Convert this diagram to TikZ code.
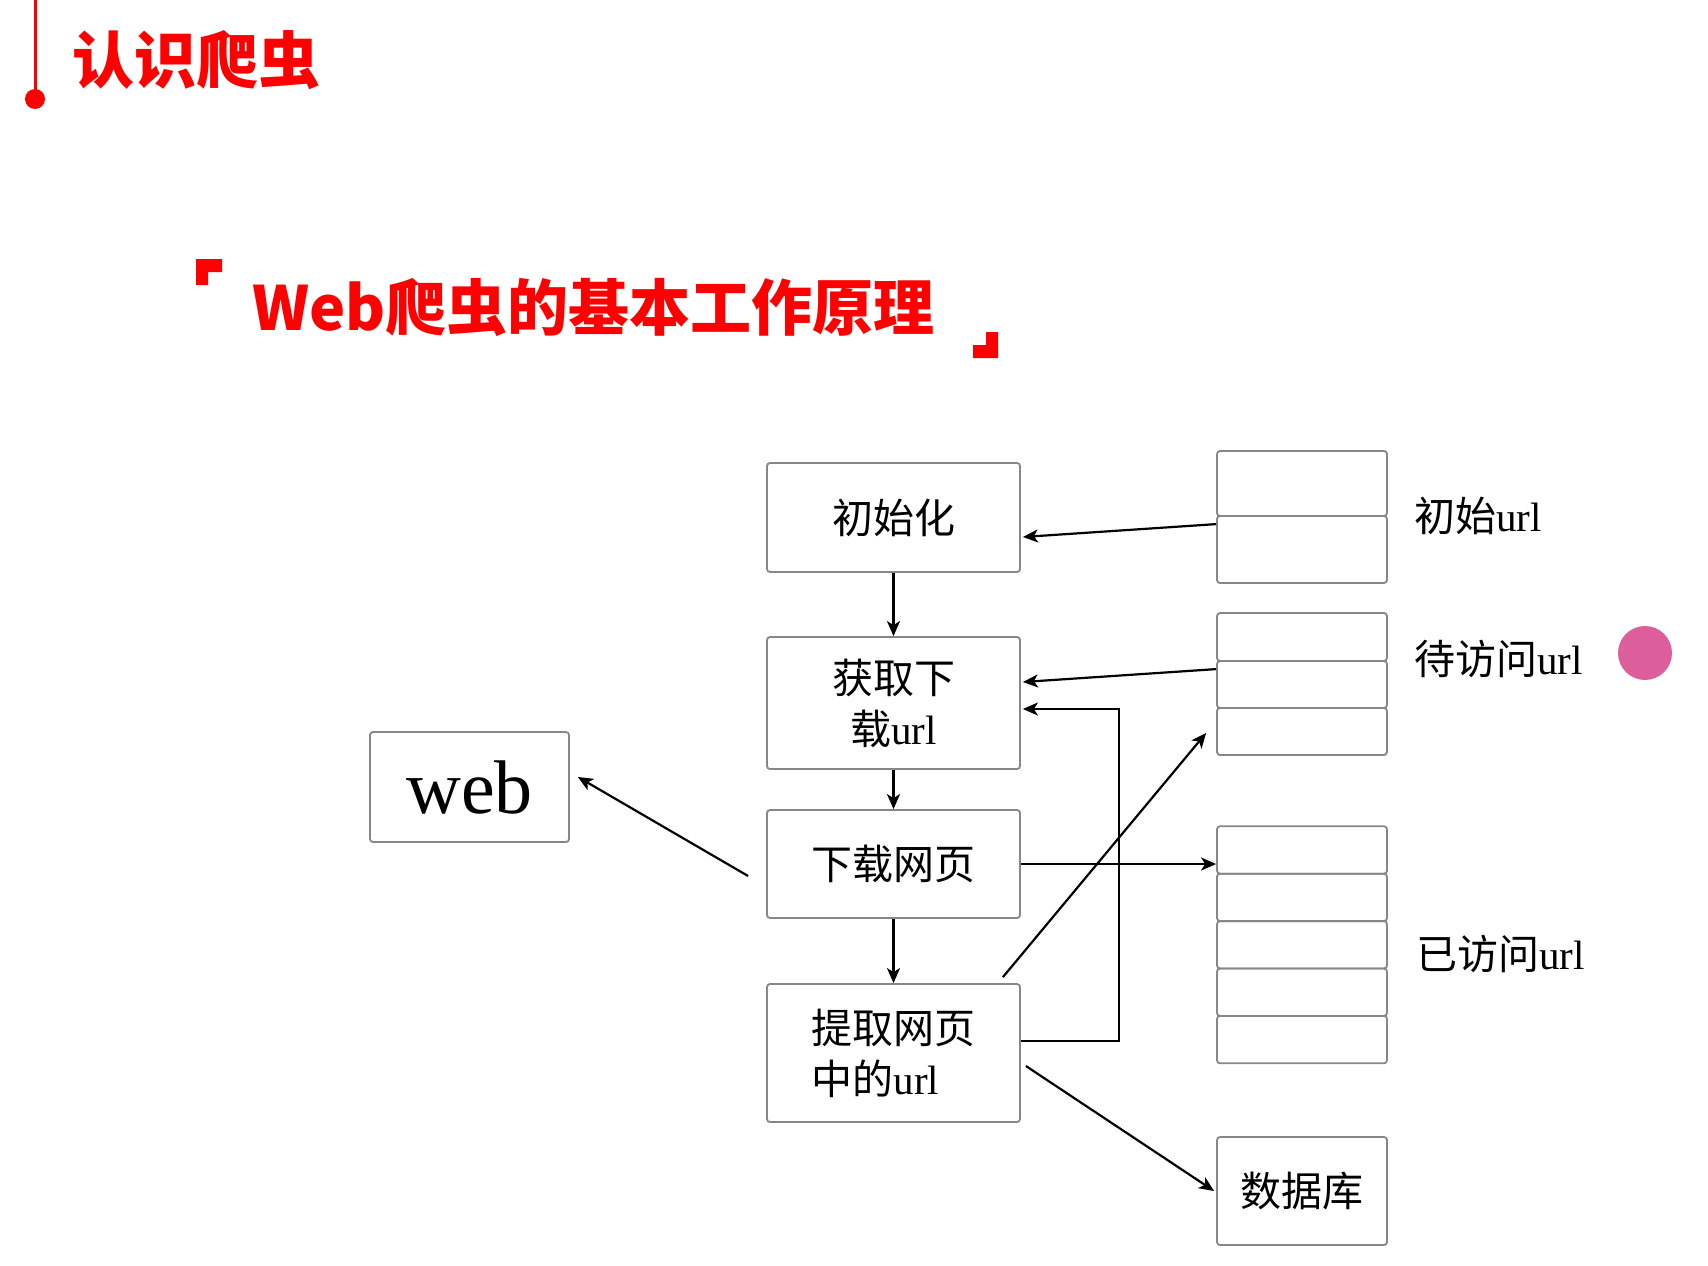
\documentclass[tikz,border=0pt]{standalone}
\usepackage{fontspec}
\setmainfont{Liberation Serif}
\newfontfamily\cjk{Noto Sans CJK SC}
\usetikzlibrary{arrows.meta,calc}
\definecolor{boxgray}{RGB}{135,135,135}
\definecolor{dotpink}{RGB}{220,95,155}
\definecolor{titlered}{RGB}{255,0,0}
\begin{document}
\begin{tikzpicture}[x=1pt,y=-1pt,
  box/.style={draw=boxgray,line width=1.8pt,rounded corners=3pt,inner sep=0pt,
    font=\fontsize{41}{51}\selectfont},
  cellbox/.style={draw=boxgray,line width=1.8pt,rounded corners=3pt,inner sep=0pt,
    minimum width=170pt},
  arr/.style={line width=2.2pt,-{Stealth[length=15pt,width=13pt,inset=4pt]}},
  lbl/.style={anchor=west,inner sep=0pt,font=\fontsize{41}{51}\selectfont}]
\useasboundingbox (0,0) rectangle (1708,1266);
% header
\draw[titlered,line width=3pt] (35,0) -- (35,99);
\fill[titlered] (35,99) circle (10);
\node[anchor=west,inner sep=0pt,text=titlered,font=\fontsize{62}{62}\selectfont\cjk\bfseries] (t1) at (72,60) {认识爬虫};
\fill[titlered] (196,259) -- (222,259) -- (222,272) -- (208,272) -- (208,285) -- (196,285) -- cycle;
\fill[titlered] (998,332) -- (998,358) -- (973,358) -- (973,345) -- (986,345) -- (986,332) -- cycle;
\node[anchor=west,inner sep=0pt,text=titlered,font=\fontsize{61}{61}\selectfont\cjk\bfseries] (t2) at (252,307) {Web爬虫的基本工作原理};
% main boxes
\node[box,minimum width=253pt,minimum height=109pt] (init) at (893.5,517.5) {{\cjk 初始化}};
\node[box,minimum width=253pt,minimum height=132pt,align=center] (fetch) at (893.5,703) {{\cjk 获取下}\\{\cjk 载}url};
\node[box,minimum width=253pt,minimum height=108pt] (dl) at (893.5,864) {{\cjk 下载网页}};
\node[box,minimum width=253pt,minimum height=138pt,align=left] (ext) at (893.5,1053) {{\cjk 提取网页}\\{\cjk 中的}url};
\node[box,minimum width=199pt,minimum height=110pt,font=\fontsize{76}{76}\selectfont] (web) at (469.5,787) {web};
% queues
\node[cellbox,minimum height=65pt] (q1a) at (1302,483.5) {};
\node[cellbox,minimum height=67pt] (q1b) at (1302,549.5) {};
\node[cellbox,minimum height=48pt] (q2a) at (1302,637) {};
\node[cellbox,minimum height=47pt] (q2b) at (1302,684.5) {};
\node[cellbox,minimum height=47pt] (q2c) at (1302,731.5) {};
\node[cellbox,minimum height=47.4pt] (q3a) at (1302,850) {};
\node[cellbox,minimum height=47.4pt] (q3b) at (1302,897.4) {};
\node[cellbox,minimum height=47.4pt] (q3c) at (1302,944.8) {};
\node[cellbox,minimum height=47.4pt] (q3d) at (1302,992.2) {};
\node[cellbox,minimum height=47.4pt] (q3e) at (1302,1039.6) {};
\node[box,minimum width=170pt,minimum height=108pt] (db) at (1302,1191) {{\cjk 数据库}};
% labels
\node[lbl] (l1) at (1414,516) {{\cjk 初始}url};
\node[lbl] (l2) at (1414,659) {{\cjk 待访问}url};
\node[lbl] (l3) at (1416,954) {{\cjk 已访问}url};
\fill[dotpink] (1645,653) circle (27);
% connectors
\draw[arr] ($(q1b.north west)+(0,9)$) -- ($(init.east)+(2,19.5)$);
\draw[arr] (init.south) -- (fetch.north);
\draw[arr] ($(q2b.north west)+(0,9)$) -- ($(fetch.east)+(2,-21)$);
\coordinate (e1) at ($(ext.east)+(0,-12)$);
\coordinate (e2) at ($(fetch.east)+(2,6)$);
\coordinate (ex) at (1119,0);
\draw[arr] (e1) -- (e1 -| ex) -- (e2 -| ex) -- (e2);
\draw[arr] (fetch.south) -- (dl.north);
\draw[arr] ($(dl.west)+(-18,12)$) -- ($(web.east)+(8,-10)$);
\draw[arr] (dl.east) -- (dl.east -| q3a.west);
\draw[arr] (dl.south) -- (ext.north);
\draw[arr] ($(ext.north east)+(-18,-6)$) -- ($(q2c.west)+(-10,1.5)$);
\draw[arr] ($(ext.east)+(5,13)$) -- ($(db.west)+(-2,0)$);
\end{tikzpicture}
\end{document}
